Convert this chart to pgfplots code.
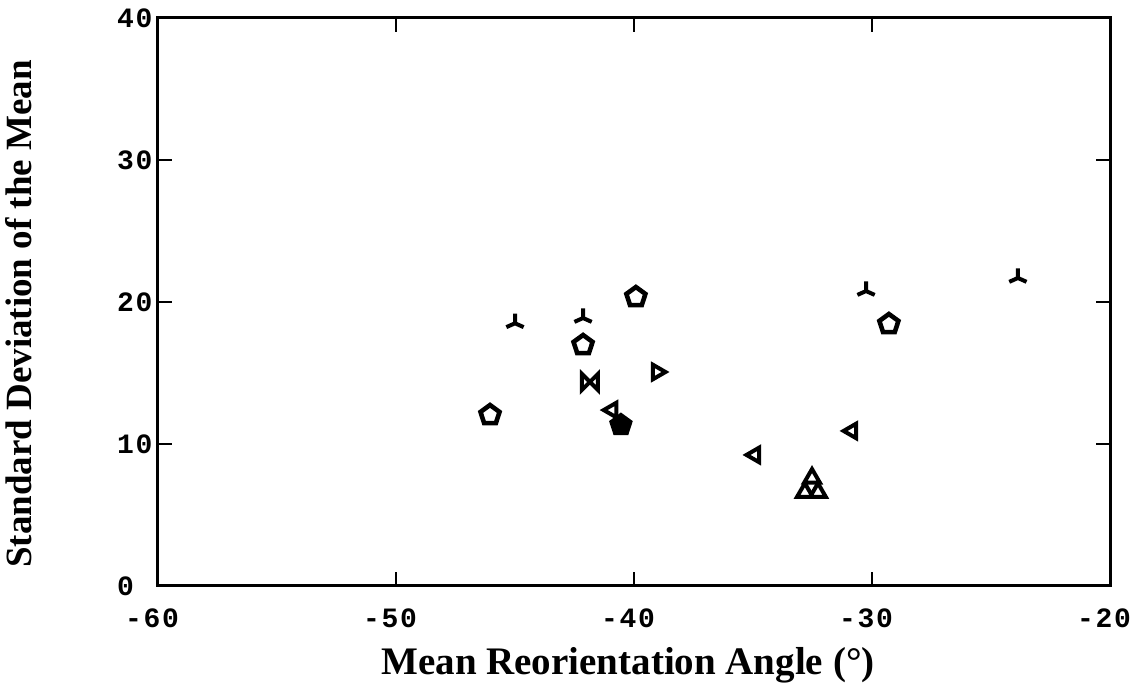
\documentclass[border=0pt]{standalone}
\usepackage{pgfplots}
\pgfplotsset{compat=1.18}
\usepackage{fontspec}
\setmainfont{Liberation Serif}
\newfontfamily\monofont[LetterSpace=6]{Liberation Mono}
\pgfdeclareplotmark{triad}{%
 \pgfpathmoveto{\pgfqpoint{0pt}{\pgfplotmarksize}}%
 \pgfpathlineto{\pgfpointorigin}%
 \pgfpathlineto{\pgfqpoint{-0.9\pgfplotmarksize}{-0.4\pgfplotmarksize}}%
 \pgfpathmoveto{\pgfpointorigin}%
 \pgfpathlineto{\pgfqpoint{0.9\pgfplotmarksize}{-0.4\pgfplotmarksize}}%
 \pgfusepathqstroke}
\pgfdeclareplotmark{bowtie}{%
 \pgfpathmoveto{\pgfqpoint{-\pgfplotmarksize}{\pgfplotmarksize}}%
 \pgfpathlineto{\pgfqpoint{\pgfplotmarksize}{-\pgfplotmarksize}}%
 \pgfpathlineto{\pgfqpoint{\pgfplotmarksize}{\pgfplotmarksize}}%
 \pgfpathlineto{\pgfqpoint{-\pgfplotmarksize}{-\pgfplotmarksize}}%
 \pgfpathclose\pgfusepathqstroke}
\begin{document}
\begin{tikzpicture}
\useasboundingbox (-79pt,-51.5pt) rectangle (487.5pt,293pt);
\begin{axis}[
  at={(0,0)}, anchor=south west,
  scale only axis, width=476pt, height=284pt,
  xmin=-60, xmax=-20, ymin=0, ymax=40,
  xtick={-60,-50,...,-20}, ytick={0,10,...,40},
  axis line style={line width=1.5pt},
  major tick length=7pt,
  tick style={line width=1.3pt, black},
  tick align=inside,
  /pgf/number format/assume math mode=true,
  ticklabel style={font=\monofont\bfseries\fontsize{14}{16}\selectfont},
  xticklabel style={yshift=-8pt, xshift=-3pt},
  yticklabel style={anchor=west, xshift=-24pt},
  xlabel={Mean Reorientation Angle (°)},
  ylabel={Standard Deviation of the Mean},
  xlabel style={font=\bfseries\fontsize{19.5}{22}\selectfont, yshift=-3pt, xshift=-3pt},
  ylabel style={font=\bfseries\fontsize{18.5}{22}\selectfont, yshift=35.5pt, xshift=-6pt},
  every axis plot/.append style={only marks, black, line width=2pt},
]
% pentagons
\addplot[mark=pentagon, mark size=5pt, line width=2.3pt] coordinates {(-46.05,12.04) (-42.14,16.97) (-39.92,20.35) (-29.29,18.45)};
% triads
\addplot[mark=triad, mark size=4.8pt] coordinates {(-45.0,18.5) (-42.14,18.87) (-30.25,20.77) (-23.87,21.69)};
% right triangle
\addplot[mark=triangle, mark size=4.2pt, mark options={rotate=-90}] coordinates {(-39.03,15.07)};
% left triangles
\addplot[mark=triangle, mark size=4.2pt, mark options={rotate=90}] coordinates {(-40.92,12.39) (-34.92,9.23) (-30.84,10.92)};
% bowtie
\addplot[mark=bowtie, mark size=4pt] coordinates {(-41.85,14.37)};
% filled blob
\addplot[mark=pentagon*, mark size=5pt] coordinates {(-40.55,11.34)};
% stacked triangles
\addplot[mark=triangle, mark size=4.5pt] coordinates {(-32.52,7.6) (-32.82,6.6) (-32.27,6.6)};
\end{axis}
\end{tikzpicture}
\end{document}
